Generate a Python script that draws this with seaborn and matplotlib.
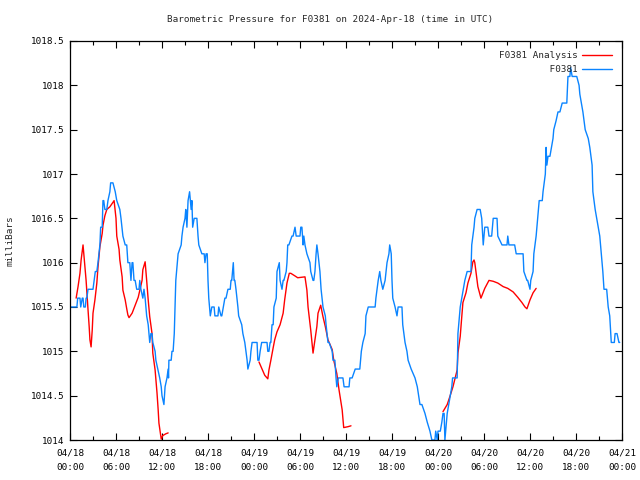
import matplotlib
matplotlib.use("Agg")
import matplotlib.pyplot as plt
import matplotlib.dates as mdates
from matplotlib.lines import Line2D
from matplotlib.ticker import MultipleLocator, FuncFormatter
import pandas as pd
import seaborn as sns

sns.set_style("ticks")
plt.rcParams["font.family"] = ["DejaVu Sans Mono"]
FS = 6.7

START = pd.Timestamp("2024-04-18 00:00")
STATION = "F0381"
RED = "#ff0000"
BLUE = "#0a84ff"

# station observations: hours after start, pressure in mb
obs_hours = [0.0, 0.9, 1.0, 1.3, 1.4, 1.6, 1.7, 1.8, 2.0, 2.1,
             2.2, 2.35, 3.0, 3.3, 3.5, 3.65, 3.9, 4.0, 4.2, 4.3,
             4.4, 4.55, 4.8, 4.95, 5.2, 5.3, 5.6, 5.9, 6.1, 6.5,
             6.65, 6.9, 7.2, 7.4, 7.55, 7.8, 7.95, 8.1, 8.2, 8.35,
             8.5, 8.7, 9.0, 9.1, 9.25, 9.5, 9.65, 9.8, 10.0, 10.2,
             10.4, 10.55, 10.7, 10.8, 11.1, 11.2, 11.7, 11.9, 12.0, 12.25,
             12.4, 12.65, 12.8, 12.85, 12.9, 13.2, 13.3, 13.45, 13.6, 13.7,
             13.8, 14.1, 14.5, 14.6, 14.75, 15.0, 15.1, 15.25, 15.4, 15.6,
             15.8, 15.9, 16.0, 16.2, 16.55, 16.7, 16.8, 17.2, 17.5, 17.6,
             17.75, 17.9, 18.0, 18.1, 18.3, 18.5, 18.8, 18.9, 19.3, 19.4,
             19.7, 19.8, 20.0, 20.2, 20.35, 20.6, 20.9, 21.0, 21.1, 21.3,
             21.4, 21.5, 21.65, 21.9, 22.0, 22.4, 22.55, 22.8, 22.95, 23.1,
             23.2, 23.5, 23.6, 23.75, 24.4, 24.5, 24.65, 24.8, 25.0, 25.7,
             25.8, 25.95, 26.1, 26.2, 26.35, 26.5, 26.6, 26.9, 27.0, 27.3,
             27.4, 27.65, 27.8, 27.9, 28.2, 28.3, 28.4, 28.55, 28.95, 29.1,
             29.35, 29.5, 30.0, 30.1, 30.25, 30.4, 30.5, 30.65, 30.9, 31.3,
             31.4, 31.7, 31.8, 31.95, 32.1, 32.2, 32.35, 32.6, 32.75, 33.0,
             33.3, 33.4, 33.65, 33.8, 34.2, 34.3, 34.55, 34.7, 34.8, 35.0,
             35.2, 35.6, 35.75, 36.4, 36.5, 36.8, 37.2, 37.8, 38.0, 38.2,
             38.5, 38.6, 38.9, 39.8, 39.9, 40.2, 40.4, 40.55, 40.8, 41.1,
             41.35, 41.6, 41.7, 41.9, 42.0, 42.1, 42.4, 42.65, 42.8, 43.3,
             43.4, 43.7, 43.95, 44.1, 44.5, 45.0, 45.3, 45.65, 45.9, 46.3,
             46.6, 46.95, 47.2, 47.6, 47.7, 47.9, 48.0, 48.3, 48.5, 48.65,
             48.8, 48.9, 49.2, 49.4, 49.8, 49.9, 50.5, 50.6, 50.9, 51.1,
             51.5, 51.8, 52.3, 52.4, 52.7, 52.8, 53.1, 53.5, 53.7, 53.9,
             54.0, 54.1, 54.5, 54.65, 55.0, 55.2, 55.7, 55.8, 56.35, 57.0,
             57.1, 57.25, 58.0, 58.2, 59.1, 59.2, 59.6, 59.7, 60.0, 60.1,
             60.4, 60.5, 60.8, 61.0, 61.2, 61.6, 61.7, 62.0, 62.1, 62.2,
             62.35, 62.6, 63.0, 63.1, 63.4, 63.65, 63.9, 64.2, 64.8, 64.95,
             65.2, 65.3, 65.5, 65.9, 66.1, 66.4, 66.5, 66.9, 67.2, 67.6,
             67.8, 68.1, 68.2, 68.5, 68.9, 69.1, 69.5, 69.65, 70.0, 70.2,
             70.4, 70.6, 71.0, 71.1, 71.35, 71.6, 71.7]
obs_mb = [1015.5, 1015.5, 1015.6, 1015.6, 1015.5, 1015.6, 1015.6, 1015.5, 1015.5, 1015.6,
          1015.6, 1015.7, 1015.7, 1015.9, 1015.9, 1016.0, 1016.2, 1016.4, 1016.4, 1016.7,
          1016.7, 1016.6, 1016.6, 1016.7, 1016.8, 1016.9, 1016.9, 1016.8, 1016.7, 1016.6,
          1016.5, 1016.3, 1016.2, 1016.2, 1016.0, 1016.0, 1015.8, 1016.0, 1016.0, 1015.8,
          1015.8, 1015.7, 1015.7, 1015.8, 1015.7, 1015.6, 1015.7, 1015.6, 1015.4, 1015.3,
          1015.1, 1015.2, 1015.2, 1015.1, 1015.0, 1014.9, 1014.7, 1014.6, 1014.5, 1014.4,
          1014.6, 1014.7, 1014.8, 1014.7, 1014.9, 1014.9, 1015.0, 1015.0, 1015.2, 1015.5,
          1015.8, 1016.1, 1016.2, 1016.3, 1016.4, 1016.5, 1016.6, 1016.4, 1016.7, 1016.8,
          1016.6, 1016.7, 1016.4, 1016.5, 1016.5, 1016.3, 1016.2, 1016.1, 1016.1, 1016.0,
          1016.1, 1016.1, 1015.8, 1015.6, 1015.4, 1015.5, 1015.5, 1015.4, 1015.4, 1015.5,
          1015.4, 1015.4, 1015.5, 1015.6, 1015.6, 1015.7, 1015.7, 1015.8, 1015.8, 1016.0,
          1015.8, 1015.8, 1015.7, 1015.5, 1015.4, 1015.3, 1015.2, 1015.1, 1015.0, 1014.9,
          1014.8, 1014.9, 1015.0, 1015.1, 1015.1, 1014.9, 1014.9, 1015.0, 1015.1, 1015.1,
          1015.0, 1015.0, 1015.1, 1015.1, 1015.3, 1015.3, 1015.5, 1015.6, 1015.9, 1016.0,
          1015.8, 1015.7, 1015.8, 1015.8, 1015.9, 1016.0, 1016.2, 1016.2, 1016.3, 1016.3,
          1016.4, 1016.3, 1016.3, 1016.4, 1016.4, 1016.2, 1016.3, 1016.2, 1016.1, 1016.0,
          1015.9, 1015.8, 1015.8, 1015.9, 1016.1, 1016.2, 1016.1, 1015.9, 1015.7, 1015.5,
          1015.4, 1015.3, 1015.1, 1015.1, 1015.0, 1014.9, 1014.9, 1014.7, 1014.6, 1014.7,
          1014.7, 1014.7, 1014.6, 1014.6, 1014.7, 1014.7, 1014.8, 1014.8, 1015.0, 1015.1,
          1015.2, 1015.4, 1015.5, 1015.5, 1015.6, 1015.8, 1015.9, 1015.8, 1015.7, 1015.8,
          1016.0, 1016.1, 1016.2, 1016.1, 1015.8, 1015.6, 1015.5, 1015.4, 1015.5, 1015.5,
          1015.3, 1015.1, 1015.0, 1014.9, 1014.8, 1014.7, 1014.6, 1014.4, 1014.4, 1014.3,
          1014.2, 1014.1, 1014.0, 1014.0, 1014.1, 1014.0, 1014.1, 1014.1, 1014.2, 1014.3,
          1014.3, 1014.0, 1014.3, 1014.4, 1014.6, 1014.7, 1014.7, 1015.2, 1015.5, 1015.6,
          1015.8, 1015.9, 1015.9, 1016.2, 1016.4, 1016.5, 1016.6, 1016.6, 1016.5, 1016.2,
          1016.3, 1016.4, 1016.4, 1016.3, 1016.3, 1016.5, 1016.5, 1016.3, 1016.2, 1016.2,
          1016.3, 1016.2, 1016.2, 1016.1, 1016.1, 1015.9, 1015.8, 1015.8, 1015.7, 1015.8,
          1015.9, 1016.1, 1016.3, 1016.5, 1016.7, 1016.7, 1016.8, 1017.0, 1017.3, 1017.1,
          1017.2, 1017.2, 1017.4, 1017.5, 1017.6, 1017.7, 1017.7, 1017.8, 1017.8, 1018.1,
          1018.1, 1018.2, 1018.1, 1018.1, 1018.1, 1018.0, 1017.9, 1017.7, 1017.5, 1017.4,
          1017.3, 1017.1, 1016.8, 1016.6, 1016.4, 1016.3, 1015.9, 1015.7, 1015.7, 1015.5,
          1015.4, 1015.1, 1015.1, 1015.2, 1015.2, 1015.1, 1015.1]

# analysis runs (three separate stretches)
ana1_hours = [0.8, 1.05, 1.3, 1.45, 1.7, 1.8, 2.1, 2.35, 2.5, 2.6, 2.75, 2.9, 3.0,
              3.25, 3.5, 3.65, 3.9, 4.2, 4.3, 4.55, 4.8, 5.2, 5.6, 5.75, 6.0, 6.1,
              6.4, 6.5, 6.8, 6.9, 7.2, 7.4, 7.55, 7.7, 8.1, 8.5, 8.9, 9.4, 9.5,
              9.8, 10.0, 10.2, 10.4, 10.7, 10.8, 11.1, 11.35, 11.5, 11.6, 11.9,
              12.1, 12.5, 12.8]
ana1_mb = [1015.6, 1015.73, 1015.88, 1016.03, 1016.2, 1016.1, 1015.8, 1015.47, 1015.28,
           1015.13, 1015.05, 1015.24, 1015.43, 1015.58, 1015.77, 1015.95, 1016.18,
           1016.33, 1016.42, 1016.53, 1016.6, 1016.63, 1016.68, 1016.7, 1016.5, 1016.3,
           1016.15, 1016.03, 1015.84, 1015.69, 1015.58, 1015.48, 1015.41, 1015.38,
           1015.43, 1015.52, 1015.61, 1015.8, 1015.92, 1016.01, 1015.8, 1015.58,
           1015.39, 1015.2, 1014.98, 1014.79, 1014.53, 1014.34, 1014.19, 1014.01,
           1014.05, 1014.07, 1014.08]
ana2_hours = [24.65, 25.0, 25.4, 25.8, 25.95, 26.2, 26.5, 26.7, 27.0, 27.4, 27.8,
              28.0, 28.3, 28.6, 28.8, 29.35, 29.7, 30.65, 30.9, 31.05, 31.4, 31.7,
              31.95, 32.2, 32.35, 32.7, 33.0, 33.3, 33.65, 34.2, 34.4, 34.8, 35.1,
              35.5, 35.7, 36.25, 36.65]
ana2_mb = [1014.88, 1014.81, 1014.73, 1014.69, 1014.79, 1014.9, 1015.04, 1015.13,
           1015.22, 1015.3, 1015.43, 1015.58, 1015.77, 1015.88, 1015.88, 1015.85,
           1015.83, 1015.84, 1015.69, 1015.5, 1015.24, 1014.98, 1015.13, 1015.28,
           1015.43, 1015.52, 1015.39, 1015.28, 1015.13, 1015.02, 1014.9, 1014.75,
           1014.56, 1014.34, 1014.14, 1014.15, 1014.16]
ana3_hours = [48.65, 49.2, 49.55, 49.95, 50.5, 50.6, 50.9, 51.1, 51.25, 51.65, 51.9,
              52.3, 52.55, 52.7, 52.8, 53.2, 53.6, 54.1, 54.65, 55.2, 55.8, 56.5,
              57.1, 57.8, 58.4, 58.95, 59.35, 59.6, 60.0, 60.4, 60.8]
ana3_mb = [1014.32, 1014.4, 1014.49, 1014.6, 1014.79, 1014.98, 1015.17, 1015.39,
           1015.55, 1015.66, 1015.77, 1015.88, 1016.01, 1016.03, 1016.0, 1015.73,
           1015.6, 1015.71, 1015.8, 1015.79, 1015.77, 1015.73, 1015.71, 1015.67,
           1015.61, 1015.55, 1015.5, 1015.48, 1015.58, 1015.66, 1015.71]


def to_frame(hours, mb, seg):
    return pd.DataFrame({"time": START + pd.to_timedelta(hours, unit="h"),
                         "mb": mb, "seg": seg})


obs = to_frame(obs_hours, obs_mb, 0)
ana = pd.concat([to_frame(ana1_hours, ana1_mb, 1),
                 to_frame(ana2_hours, ana2_mb, 2),
                 to_frame(ana3_hours, ana3_mb, 3)], ignore_index=True)

fig = plt.figure(figsize=(6.4, 4.8), dpi=100)
ax = fig.add_axes([70 / 640, 40 / 480, 552 / 640, 399 / 480])

# units keeps the analysis gaps open
sns.lineplot(data=ana, x="time", y="mb", units="seg", estimator=None,
             color=RED, lw=1.0, ax=ax, legend=False)
sns.lineplot(data=obs, x="time", y="mb", estimator=None,
             color=BLUE, lw=1.0, ax=ax, legend=False)

ax.set_xlim(START, START + pd.Timedelta(hours=72))
ax.set_ylim(1014, 1018.5)
ax.xaxis.set_major_locator(mdates.HourLocator(byhour=[0, 6, 12, 18]))
ax.xaxis.set_minor_locator(mdates.HourLocator(byhour=[3, 9, 15, 21]))
ax.xaxis.set_major_formatter(mdates.DateFormatter("%m/%d\n%H:%M"))
ax.yaxis.set_major_locator(MultipleLocator(0.5))
ax.yaxis.set_major_formatter(FuncFormatter(lambda v, p: "%g" % v))

ax.tick_params(which="both", direction="in", top=True, right=True,
               colors="black", labelsize=FS, width=0.8)
ax.tick_params(which="major", length=5)
ax.tick_params(which="minor", length=3)
ax.tick_params(axis="x", pad=6)
ax.tick_params(axis="y", pad=4)
for lab in ax.get_xticklabels():
    lab.set_linespacing(1.75)
for s in ax.spines.values():
    s.set_color("black")
    s.set_linewidth(0.9)

ax.set_xlabel("")
ax.set_ylabel("milliBars", fontsize=FS)
ax.yaxis.set_label_coords(-0.1, 0.5)
fig.text(330 / 640, 1 - 19 / 480,
         "Barometric Pressure for %s on 2024-Apr-18 (time in UTC)" % STATION,
         fontsize=FS, ha="center", va="center")

handles = [Line2D([], [], color=RED, lw=1.0), Line2D([], [], color=BLUE, lw=1.0)]
labels = [STATION + " Analysis", STATION.rjust(len(STATION + " Analysis"))]
ax.legend(handles, labels, loc="upper right", frameon=False, markerfirst=False,
          fontsize=FS, handlelength=3.2, handletextpad=0.45, labelspacing=0.5,
          borderaxespad=0.9, borderpad=0.2)

fig.savefig("out.png", dpi=100)
